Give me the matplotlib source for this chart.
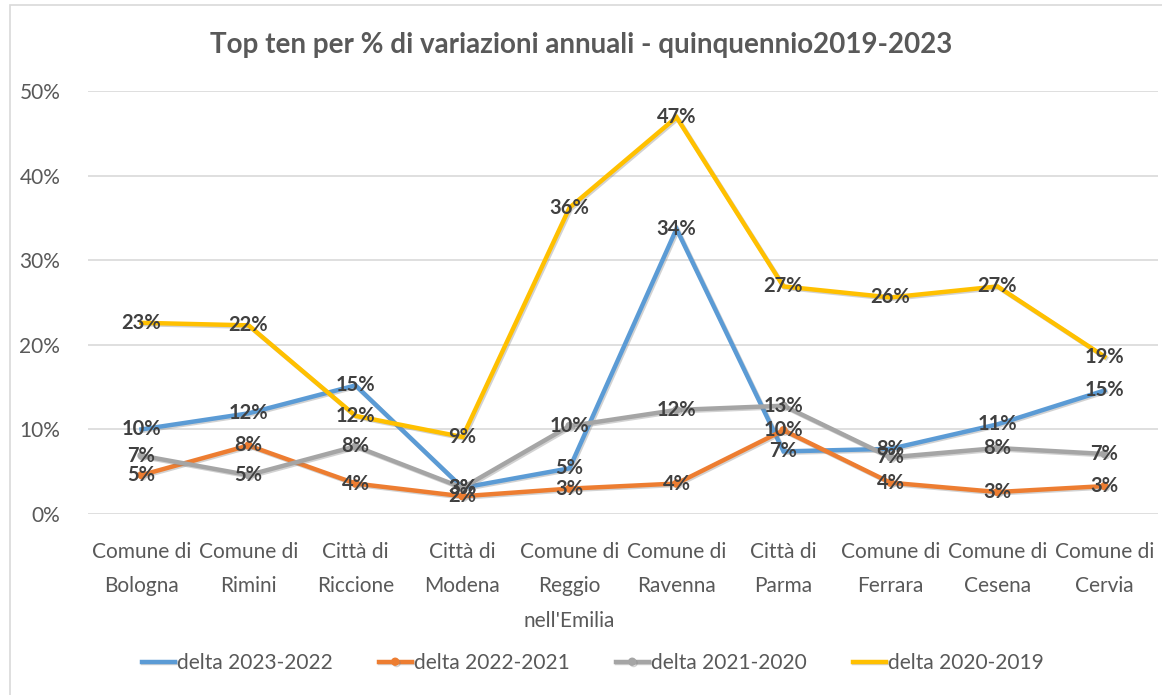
import numpy as np
import matplotlib.pyplot as plt
import matplotlib.patheffects as pe
from matplotlib.patches import Rectangle

plt.rcParams['font.family'] = ['Lato', 'DejaVu Sans']

# categories (x axis)
comuni = ["Comune di\nBologna", "Comune di\nRimini", "Città di\nRiccione",
          "Città di\nModena", "Comune di\nReggio\nnell'Emilia", "Comune di\nRavenna",
          "Città di\nParma", "Comune di\nFerrara", "Comune di\nCesena", "Comune di\nCervia"]

# annual variations (fractions)
delta_23_22 = [0.100, 0.119, 0.152, 0.031, 0.054, 0.337, 0.074, 0.077, 0.106, 0.146]
delta_22_21 = [0.046, 0.081, 0.036, 0.021, 0.030, 0.036, 0.099, 0.037, 0.026, 0.033]
delta_21_20 = [0.069, 0.046, 0.080, 0.031, 0.104, 0.123, 0.128, 0.067, 0.078, 0.071]
delta_20_19 = [0.226, 0.223, 0.116, 0.091, 0.362, 0.469, 0.269, 0.256, 0.269, 0.186]

serie = [("delta 2023-2022", delta_23_22, "#5b9bd5", None),
         ("delta 2022-2021", delta_22_21, "#ed7d31", "o"),
         ("delta 2021-2020", delta_21_20, "#a5a5a5", "o"),
         ("delta 2020-2019", delta_20_19, "#ffc000", None)]

fig = plt.figure(figsize=(11.62, 6.95), dpi=100)
# chart border
fig.patches.append(Rectangle((10/1162, -0.01), 1.02, 1 - 5/695 + 0.01, transform=fig.transFigure,
                             fill=False, edgecolor="#d9d9d9", linewidth=1.2))
ax = fig.add_axes([88/1162, 1 - 514/695, (1158 - 88)/1162, (514 - 91)/695])

x = np.arange(len(comuni))
shadow = [pe.SimpleLineShadow(offset=(1, -1), shadow_color="gray", alpha=0.35), pe.Normal()]
for nome, vals, col, mk in serie:
    ax.plot(x, vals, color=col, linewidth=3.2, marker=mk, markersize=5,
            label=nome, solid_joinstyle="miter", path_effects=shadow, zorder=3)
    for xi, v in zip(x, vals):
        ax.text(xi, v, f"{int(v*100 + 0.5)}%", ha="center", va="center",
                fontsize=14.5, fontweight="bold", color="#404040", zorder=5)

ax.set_xlim(-0.5, len(comuni) - 0.5)
ax.set_ylim(0, 0.5)
ticks = np.arange(0, 0.51, 0.1)
ax.set_yticks(ticks)
ax.set_yticklabels([f"{int(round(t*100))}%" for t in ticks])
ax.set_xticks(x)
ax.set_xticklabels(comuni, linespacing=1.9, va="top")
ax.tick_params(axis="both", length=0, labelsize=15, labelcolor="#595959")
ax.tick_params(axis="y", pad=20)
ax.tick_params(axis="x", pad=20)
ax.grid(axis="y", color="#d9d9d9", linewidth=1.2)
ax.set_axisbelow(True)
for s in ax.spines.values():
    s.set_visible(False)

fig.text(0.5, 1 - 45/695, "Top ten per % di variazioni annuali - quinquennio2019-2023",
         ha="center", va="center", fontsize=20, fontweight="bold", color="#595959")

fig.legend(loc="center", bbox_to_anchor=(0.51, 1 - 663/695), ncol=4, frameon=False,
           fontsize=15, labelcolor="#595959", handlelength=1.6, handletextpad=0.1,
           columnspacing=2.2, markerscale=1.0)

plt.savefig("out.png", dpi=100)
